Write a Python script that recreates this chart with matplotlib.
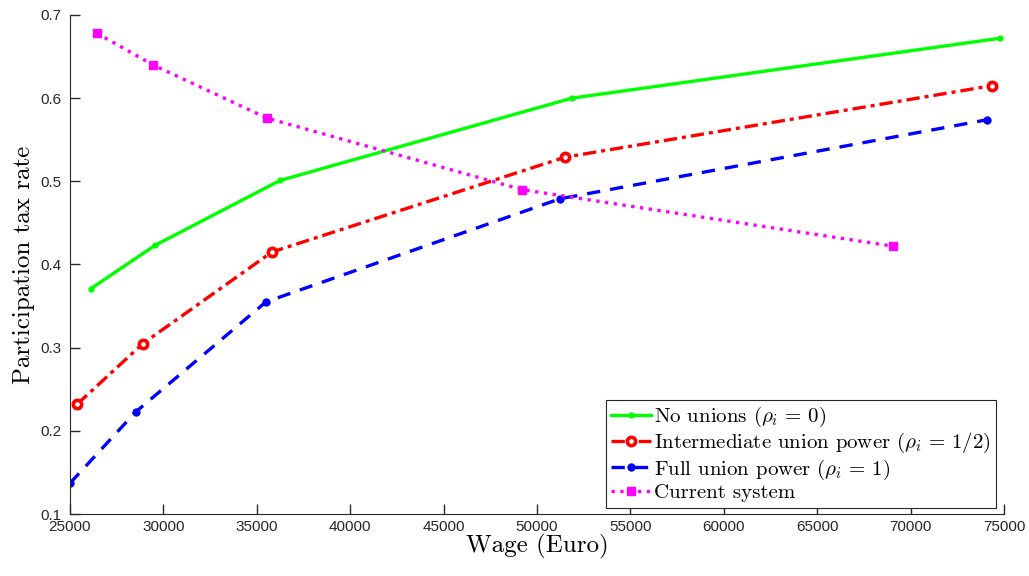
import numpy as np
import matplotlib
matplotlib.use('Agg')
import matplotlib.pyplot as plt

# data
wage_none = [26120, 29550, 36240, 51870, 74790]
tax_none = [0.371, 0.423, 0.501, 0.600, 0.672]

wage_mid = [25380, 28910, 35810, 51500, 74350]
tax_mid = [0.232, 0.305, 0.415, 0.529, 0.615]

wage_full = [25000, 28530, 35490, 51230, 74090]
tax_full = [0.137, 0.223, 0.355, 0.479, 0.574]

wage_cur = [26450, 29440, 35550, 49200, 69060]
tax_cur = [0.678, 0.640, 0.576, 0.490, 0.422]

labels = [r'No unions ($\rho_i\,=\,0$)',
          r'Intermediate union power ($\rho_i\,=\,1/2$)',
          r'Full union power ($\rho_i\,=\,1$)',
          'Current system']

plt.rcParams['mathtext.fontset'] = 'cm'
plt.rcParams['axes.unicode_minus'] = False

fig = plt.figure(figsize=(10.29, 5.76), dpi=100)
ax = fig.add_axes([0.068, 0.1076, 0.9077, 0.8664])

ax.plot(wage_none, tax_none, '-', color='#00ff00', lw=2.4, marker='.', ms=7, label=labels[0])
ax.plot(wage_mid, tax_mid, '-.', color='#ff0000', lw=2.4, marker='o', ms=6,
        mfc='white', mew=2.6, label=labels[1], dashes=(4, 1.5, 1.2, 1.5))
ax.plot(wage_full, tax_full, '--', color='#0000ff', lw=2.4, marker='.', ms=10,
        label=labels[2], dashes=(4, 3))
ax.plot(wage_cur, tax_cur, ':', color='#ff00ff', lw=2.4, marker='s', ms=6, label=labels[3])

ax.set_xlim(25000, 75000)
ax.set_ylim(0.1, 0.7)
ax.set_xticks(np.arange(25000, 75001, 5000))
ax.set_yticks(np.arange(0.1, 0.71, 0.1))
ax.set_yticklabels(['0.1', '0.2', '0.3', '0.4', '0.5', '0.6', '0.7'])
ax.tick_params(direction='in', length=7, width=1, labelsize=11, colors='#262626',
               labelfontfamily='Liberation Sans')
ax.tick_params(axis='y', pad=6)
ax.tick_params(axis='x', pad=4.5)
for s in ['top', 'right']:
    ax.spines[s].set_visible(False)
for s in ['left', 'bottom']:
    ax.spines[s].set_color('#262626')

ax.set_xlabel('Wage (Euro)', fontsize=18, family='cmr10', labelpad=0)
ax.set_ylabel('Participation tax rate', fontsize=18, family='cmr10', labelpad=4)

leg = ax.legend(loc='lower right', bbox_to_anchor=(0.991, 0.013), fancybox=False,
                edgecolor='#262626', framealpha=1, handlelength=1.9, handletextpad=0.15,
                borderpad=0.25, labelspacing=0.1, borderaxespad=0,
                prop={'family': 'cmr10', 'size': 15})
leg.get_frame().set_linewidth(0.8)

fig.savefig('out.png', dpi=100)
